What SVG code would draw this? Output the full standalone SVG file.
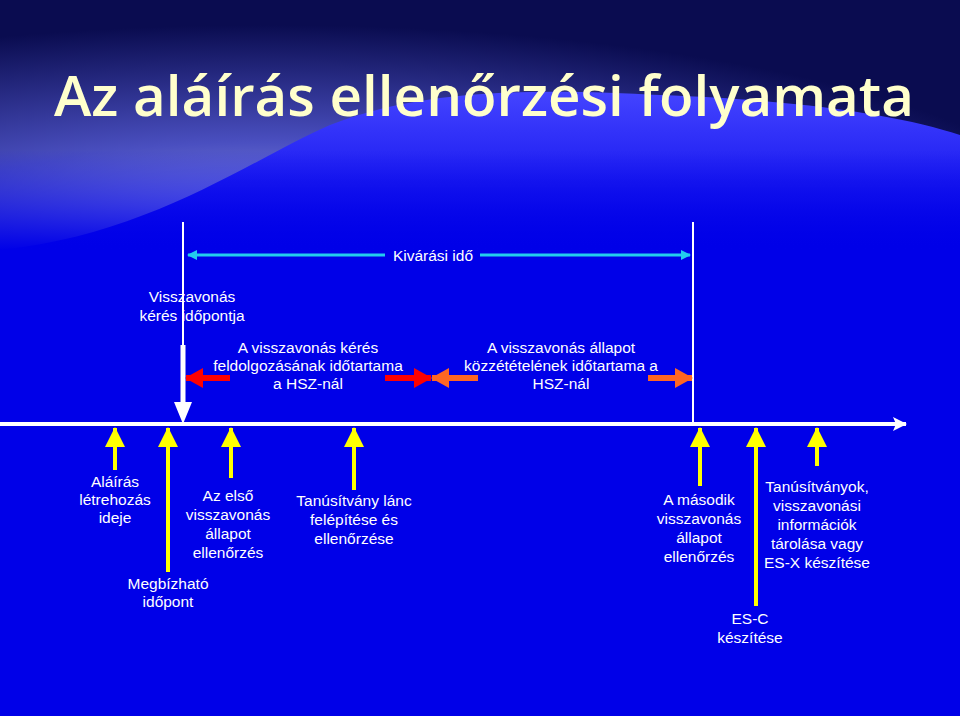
<svg xmlns="http://www.w3.org/2000/svg" width="960" height="716" viewBox="0 0 960 716">
<defs>
<radialGradient id="bgTop" cx="0.28" cy="0.95" r="0.85">
<stop offset="0" stop-color="#a0a6f8"/>
<stop offset="0.45" stop-color="#4a4fc0"/>
<stop offset="1" stop-color="#0a0c50"/>
</radialGradient>
<linearGradient id="wave" x1="0" y1="0" x2="0" y2="1">
<stop offset="0" stop-color="#4444ff"/>
<stop offset="0.6" stop-color="#1a1af0"/>
<stop offset="1" stop-color="#0000e8"/>
</linearGradient>
<linearGradient id="fade" x1="0" y1="0" x2="0" y2="1">
<stop offset="0" stop-color="#0000e8" stop-opacity="0"/>
<stop offset="1" stop-color="#0000e8" stop-opacity="1"/>
</linearGradient>
<marker id="cy" markerWidth="10" markerHeight="10" refX="9" refY="5" orient="auto-start-reverse" markerUnits="userSpaceOnUse"><path d="M0,0 L10,5 L0,10 z" fill="#22ccee"/></marker>
<marker id="red" markerWidth="18" markerHeight="20" refX="17" refY="10" orient="auto-start-reverse" markerUnits="userSpaceOnUse"><path d="M0,0 L18,10 L0,20 z" fill="#ff0000"/></marker>
<marker id="org" markerWidth="18" markerHeight="20" refX="17" refY="10" orient="auto-start-reverse" markerUnits="userSpaceOnUse"><path d="M0,0 L18,10 L0,20 z" fill="#ff6622"/></marker>
<marker id="wh" markerWidth="14" markerHeight="14" refX="13" refY="7" orient="auto" markerUnits="userSpaceOnUse"><path d="M0,0 L14,7 L0,14 L3,7 z" fill="#fff"/></marker>
<marker id="yl" markerWidth="20" markerHeight="20" refX="19" refY="10" orient="auto" markerUnits="userSpaceOnUse"><path d="M0,0 L20,10 L0,20 z" fill="#ffff00"/></marker>
<style>
text{font-family:"Liberation Sans",Arial,sans-serif;font-size:15.5px;fill:#fff;text-anchor:middle}
.y{stroke:#ffff00;stroke-width:4;marker-end:url(#yl)}
</style>
</defs>
<rect width="960" height="716" fill="#0000e8"/>
<rect width="960" height="250" fill="url(#bgTop)"/>
<path d="M0,250 C150,235 250,160 330,125 C430,85 560,90 660,95 C800,100 900,115 960,135 L960,250 Z" fill="url(#wave)"/>
<rect y="150" width="960" height="100" fill="url(#fade)"/>
<rect y="250" width="960" height="466" fill="#0000e8"/>
<text x="484" y="116" style="font-family:'Open Sans',Lato,sans-serif;font-weight:600;font-size:56px;fill:#ffffcc" textLength="860" lengthAdjust="spacingAndGlyphs">Az aláírás ellenőrzési folyamata</text>

<g id="connectors">
<line x1="0" y1="424" x2="906" y2="424" stroke="#fff" stroke-width="4" marker-end="url(#wh)"/>
<line x1="693" y1="222" x2="693" y2="424" stroke="#fff" stroke-width="2"/>
<line x1="183" y1="222" x2="183" y2="345" stroke="#fff" stroke-width="2"/>
<line x1="183" y1="345" x2="183" y2="402" stroke="#fff" stroke-width="5"/>
<path d="M174,402 L192,402 L183,424 z" fill="#fff"/>
<line x1="188" y1="255" x2="385" y2="255" stroke="#22ccee" stroke-width="3" marker-start="url(#cy)"/>
<line x1="480" y1="255" x2="690" y2="255" stroke="#22ccee" stroke-width="3" marker-end="url(#cy)"/>
<line x1="186" y1="378" x2="230" y2="378" stroke="#ff0000" stroke-width="6" marker-start="url(#red)"/>
<line x1="385" y1="378" x2="431" y2="378" stroke="#ff0000" stroke-width="6" marker-end="url(#red)"/>
<line x1="432" y1="378" x2="478" y2="378" stroke="#ff6622" stroke-width="6" marker-start="url(#org)"/>
<line x1="648" y1="378" x2="692" y2="378" stroke="#ff6622" stroke-width="6" marker-end="url(#org)"/>
<line class="y" x1="115" y1="470" x2="115" y2="428"/>
<line class="y" x1="168" y1="572" x2="168" y2="428"/>
<line class="y" x1="231" y1="478" x2="231" y2="428"/>
<line class="y" x1="354" y1="490" x2="354" y2="428"/>
<line class="y" x1="700" y1="486" x2="700" y2="428"/>
<line class="y" x1="756" y1="606" x2="756" y2="428"/>
<line class="y" x1="817" y1="466" x2="817" y2="428"/>
</g>

<g id="kivarasi"><text x="433" y="261">Kivárási idő</text></g>
<g id="visszavonas-keres"><text x="192" y="302">Visszavonás</text><text x="192" y="321">kérés időpontja</text></g>
<g id="feldolgozas"><text x="308" y="353">A visszavonás kérés</text><text x="308" y="371">feldolgozásának időtartama</text><text x="308" y="389">a HSZ-nál</text></g>
<g id="kozzetetel"><text x="561" y="353">A visszavonás állapot</text><text x="561" y="371">közzétételének időtartama a</text><text x="561" y="389">HSZ-nál</text></g>
<g id="alairas"><text x="115" y="487">Aláírás</text><text x="115" y="505">létrehozás</text><text x="115" y="523">ideje</text></g>
<g id="megbizhato"><text x="168" y="589">Megbízható</text><text x="168" y="607">időpont</text></g>
<g id="elso"><text x="228" y="501">Az első</text><text x="228" y="520">visszavonás</text><text x="228" y="539">állapot</text><text x="228" y="558">ellenőrzés</text></g>
<g id="lanc"><text x="354" y="506">Tanúsítvány lánc</text><text x="354" y="525">felépítése és</text><text x="354" y="544">ellenőrzése</text></g>
<g id="masodik"><text x="699" y="505">A második</text><text x="699" y="524">visszavonás</text><text x="699" y="543">állapot</text><text x="699" y="562">ellenőrzés</text></g>
<g id="esc"><text x="750" y="624">ES-C</text><text x="750" y="643">készítése</text></g>
<g id="tarolas"><text x="817" y="492">Tanúsítványok,</text><text x="817" y="511">visszavonási</text><text x="817" y="530">információk</text><text x="817" y="549">tárolása vagy</text><text x="817" y="568">ES-X készítése</text></g>
</svg>
